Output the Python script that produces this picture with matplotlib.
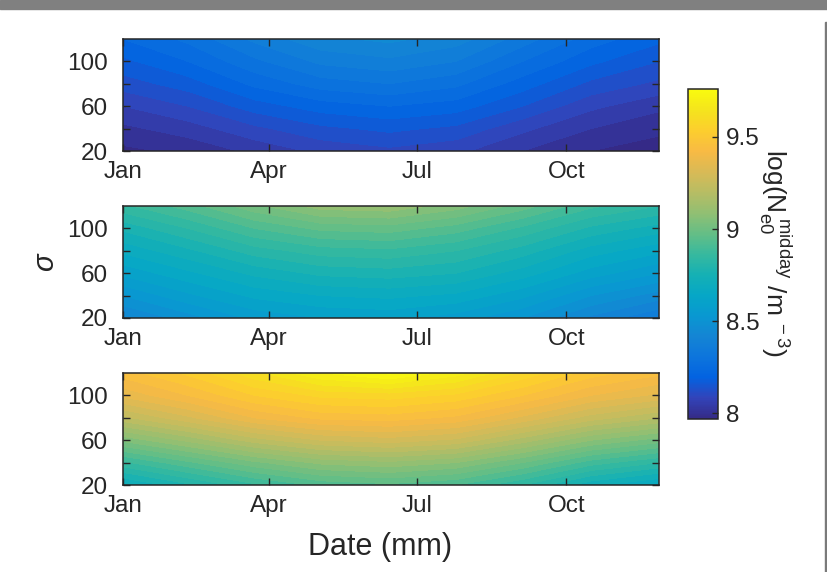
import numpy as np
import matplotlib
matplotlib.use('Agg')
import matplotlib.pyplot as plt
from matplotlib.colors import LinearSegmentedColormap, Normalize
from matplotlib.cm import ScalarMappable
from matplotlib.patches import Rectangle

plt.rcParams['font.family'] = ['Liberation Sans', 'DejaVu Sans']
plt.rcParams['mathtext.fontset'] = 'custom'
plt.rcParams['mathtext.rm'] = 'Liberation Sans'
plt.rcParams['mathtext.it'] = 'Liberation Sans:italic'

# day of year (columns) and sigma (rows) where values were read
days = [1, 41, 82, 123, 165, 206, 247, 289, 331]
sigma = [20, 40, 60, 80, 100, 120]

# log10 midday Ne0, rows = sigma (bottom -> top)
panel_top = [
    [7.98, 8.00, 8.04, 8.08, 8.10, 8.08, 8.03, 7.99, 7.97],
    [8.02, 8.05, 8.10, 8.14, 8.16, 8.14, 8.08, 8.03, 8.00],
    [8.07, 8.11, 8.17, 8.21, 8.23, 8.21, 8.15, 8.08, 8.04],
    [8.13, 8.17, 8.24, 8.29, 8.31, 8.28, 8.21, 8.14, 8.10],
    [8.18, 8.23, 8.30, 8.36, 8.38, 8.35, 8.27, 8.20, 8.15],
    [8.23, 8.28, 8.36, 8.42, 8.44, 8.41, 8.33, 8.25, 8.20],
]
panel_mid = [
    [8.42, 8.49, 8.56, 8.59, 8.60, 8.57, 8.51, 8.42, 8.35],
    [8.51, 8.58, 8.64, 8.67, 8.68, 8.66, 8.60, 8.51, 8.45],
    [8.60, 8.66, 8.72, 8.76, 8.77, 8.75, 8.69, 8.61, 8.55],
    [8.68, 8.74, 8.81, 8.85, 8.86, 8.83, 8.77, 8.69, 8.64],
    [8.76, 8.83, 8.91, 8.96, 8.97, 8.93, 8.86, 8.78, 8.73],
    [8.86, 8.93, 9.02, 9.09, 9.10, 9.05, 8.97, 8.88, 8.83],
]
panel_bot = [
    [8.70, 8.78, 8.86, 8.92, 8.94, 8.91, 8.83, 8.72, 8.66],
    [8.86, 8.94, 9.02, 9.08, 9.10, 9.07, 8.99, 8.89, 8.83],
    [9.04, 9.12, 9.21, 9.27, 9.29, 9.26, 9.17, 9.07, 9.01],
    [9.22, 9.30, 9.39, 9.44, 9.45, 9.42, 9.34, 9.25, 9.19],
    [9.36, 9.43, 9.51, 9.56, 9.57, 9.54, 9.47, 9.39, 9.34],
    [9.45, 9.52, 9.62, 9.71, 9.76, 9.69, 9.58, 9.49, 9.44],
]

month_days = [1, 91, 182, 274]
month_labels = ['Jan', 'Apr', 'Jul', 'Oct']
cbar_ticks = [8, 8.5, 9, 9.5]
vmin, vmax = 7.97, 9.76

# parula (subsampled)
parula = LinearSegmentedColormap.from_list('parula', [
    (0.2081, 0.1663, 0.5292), (0.1959, 0.2645, 0.7279), (0.0117, 0.3875, 0.8820),
    (0.0498, 0.4586, 0.8641), (0.0793, 0.5200, 0.8312), (0.0343, 0.5966, 0.8199),
    (0.0228, 0.6535, 0.7768), (0.0843, 0.6928, 0.7062), (0.2178, 0.7250, 0.6193),
    (0.3953, 0.7459, 0.5244), (0.5709, 0.7485, 0.4494), (0.7184, 0.7411, 0.3905),
    (0.8507, 0.7299, 0.3360), (0.9739, 0.7314, 0.2666), (0.9880, 0.8066, 0.1794),
    (0.9589, 0.8949, 0.1132), (0.9763, 0.9831, 0.0538)], N=256)
norm = Normalize(vmin=vmin, vmax=vmax)
levels = np.arange(7.95, 9.80, 0.04)

W, H = 827, 572
fig = plt.figure(figsize=(W / 100, H / 100), dpi=100)
fig.patches.append(Rectangle((0, 1 - 9 / H), 1, 9 / H, transform=fig.transFigure,
                             color='#808080', zorder=0))
fig.patches.append(Rectangle((1 - 2 / W, 0), 2 / W, 1 - 22 / H, transform=fig.transFigure,
                             color='#7a7a7a', zorder=0))

dark = '#262626'
fs = 17.5
tops = [39, 206, 373]
for top, data in zip(tops, [panel_top, panel_mid, panel_bot]):
    ax = fig.add_axes([123 / W, 1 - (top + 112) / H, 536 / W, 112 / H])
    ax.contourf(days, sigma, np.array(data), levels=levels, cmap=parula, norm=norm)
    ax.set_xlim(1, 331)
    ax.set_ylim(20, 120)
    ax.set_xticks(month_days)
    ax.set_xticklabels(month_labels)
    ax.set_yticks([20, 40, 60, 80, 100])
    ax.set_yticklabels(['20', '', '60', '', '100'])
    ax.tick_params(direction='in', top=True, right=True, length=5, width=1,
                   color=dark, labelcolor=dark, labelsize=fs)
    ax.tick_params(axis='y', pad=11)
    ax.tick_params(axis='x', pad=7)
    for sp in ax.spines.values():
        sp.set_color(dark)
        sp.set_linewidth(1.1)

fig.text(380 / W, 1 - 547 / H, 'Date (mm)', ha='center', va='center',
         fontsize=22, color=dark)
fig.text(45 / W, 1 - 262 / H, 'σ', ha='center', va='center', rotation=90,
         fontsize=21, style='italic', color=dark)

cax = fig.add_axes([688 / W, 1 - 419 / H, 30 / W, 330 / H])
cb = fig.colorbar(ScalarMappable(norm=norm, cmap=parula), cax=cax)
cb.set_ticks(cbar_ticks)
cb.set_ticklabels(['8', '8.5', '9', '9.5'])
cax.tick_params(direction='in', length=4, width=1, color=dark, labelcolor=dark,
                labelsize=fs, pad=6)
cb.outline.set_edgecolor(dark)
cb.outline.set_linewidth(1.1)
fig.text(775 / W, 1 - 253 / H,
         r'log($\mathrm{N}_{\mathrm{e0}}^{\ \mathrm{midday}}$ /m$^{\ -3}$)',
         ha='center', va='center', rotation=270, fontsize=19, color=dark)

fig.savefig('out.png', dpi=100)
